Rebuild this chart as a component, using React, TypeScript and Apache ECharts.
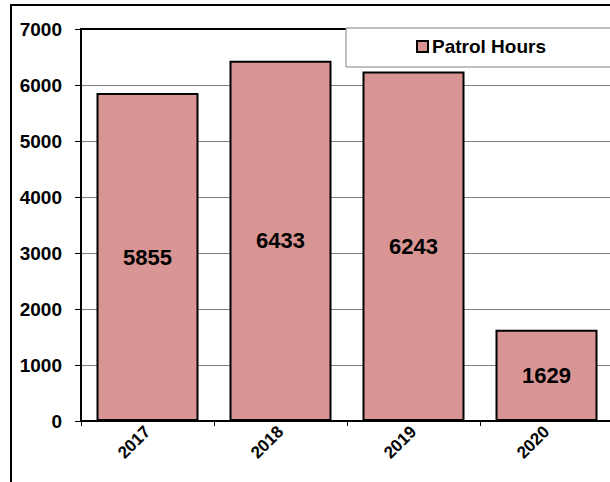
import React, { useEffect, useRef } from "react";
import * as echarts from "echarts";

const categories = ["2017", "2018", "2019", "2020"];
const patrolHours = [5855, 6433, 6243, 1629];
const seriesName = "Patrol Hours";
const yTicks = { min: 0, max: 7000, interval: 1000 };

const FONT = 'Arial, "Liberation Sans", sans-serif';

export default function App() {
  const ref = useRef<HTMLDivElement>(null);
  useEffect(() => {
    if (!ref.current) return;
    const chart = echarts.init(ref.current, null, { renderer: "svg" });
    chart.setOption({
      animation: false,
      backgroundColor: "#ffffff",
      textStyle: { fontFamily: FONT },
      graphic: [
        {
          type: "rect",
          z: -10,
          silent: true,
          shape: { x: 11, y: 5, width: 700, height: 600 },
          style: { fill: "none", stroke: "#000", lineWidth: 2 },
        },
        {
          type: "rect",
          z: 5,
          silent: true,
          shape: { x: 346, y: 28, width: 400, height: 39 },
          style: { fill: "#fff", stroke: "#808080", lineWidth: 1 },
        },
      ],
      legend: {
        left: 416,
        top: 37,
        padding: 0,
        z: 10,
        itemWidth: 11,
        itemHeight: 11,
        itemGap: 5,
        icon: "rect",
        textStyle: { fontFamily: FONT, fontWeight: "bold", fontSize: 19, color: "#000", padding: [0, 0, 0, -1] },
        itemStyle: { color: "#D99594", borderColor: "#000", borderWidth: 2 },
        data: [seriesName],
      },
      grid: {
        left: 81,
        top: 29,
        width: 532,
        height: 392,
        show: true,
        borderColor: "#000",
        borderWidth: 2,
        backgroundColor: "transparent",
        containLabel: false,
      },
      xAxis: {
        type: "category",
        data: categories,
        boundaryGap: true,
        axisLine: { lineStyle: { color: "#000", width: 2 } },
        axisTick: { show: true, length: 5, alignWithLabel: false, lineStyle: { color: "#000", width: 1 } },
        axisLabel: {
          rotate: 45,
          margin: 8,
          fontFamily: FONT,
          fontWeight: "bold",
          fontSize: 17,
          color: "#000",
        },
        splitLine: { show: false },
      },
      yAxis: {
        type: "value",
        min: yTicks.min,
        max: yTicks.max,
        interval: yTicks.interval,
        axisLine: { show: true, lineStyle: { color: "#000", width: 2 } },
        axisTick: { show: true, length: 6, lineStyle: { color: "#000", width: 1 } },
        axisLabel: {
          margin: 19,
          fontFamily: FONT,
          fontWeight: "bold",
          fontSize: 19,
          color: "#000",
          formatter: (v: number) => String(v),
        },
        splitLine: { show: true, showMaxLine: false, lineStyle: { color: "#808080", width: 1 } },
      },
      series: [
        {
          name: seriesName,
          type: "bar",
          data: patrolHours,
          barWidth: 102,
          itemStyle: { color: "#D99594", borderColor: "#000", borderWidth: 2 },
          label: {
            show: true,
            position: "inside",
            fontFamily: FONT,
            fontWeight: "bold",
            fontSize: 22,
            color: "#000",
          },
        },
      ],
    });
    return () => chart.dispose();
  }, []);
  return (
    <div
      style={{
        position: "fixed",
        left: 0,
        top: 0,
        width: 610,
        height: 482,
        overflow: "hidden",
        background: "#fff",
      }}
    >
      <div ref={ref} style={{ width: 640, height: 500 }} />
    </div>
  );
}
